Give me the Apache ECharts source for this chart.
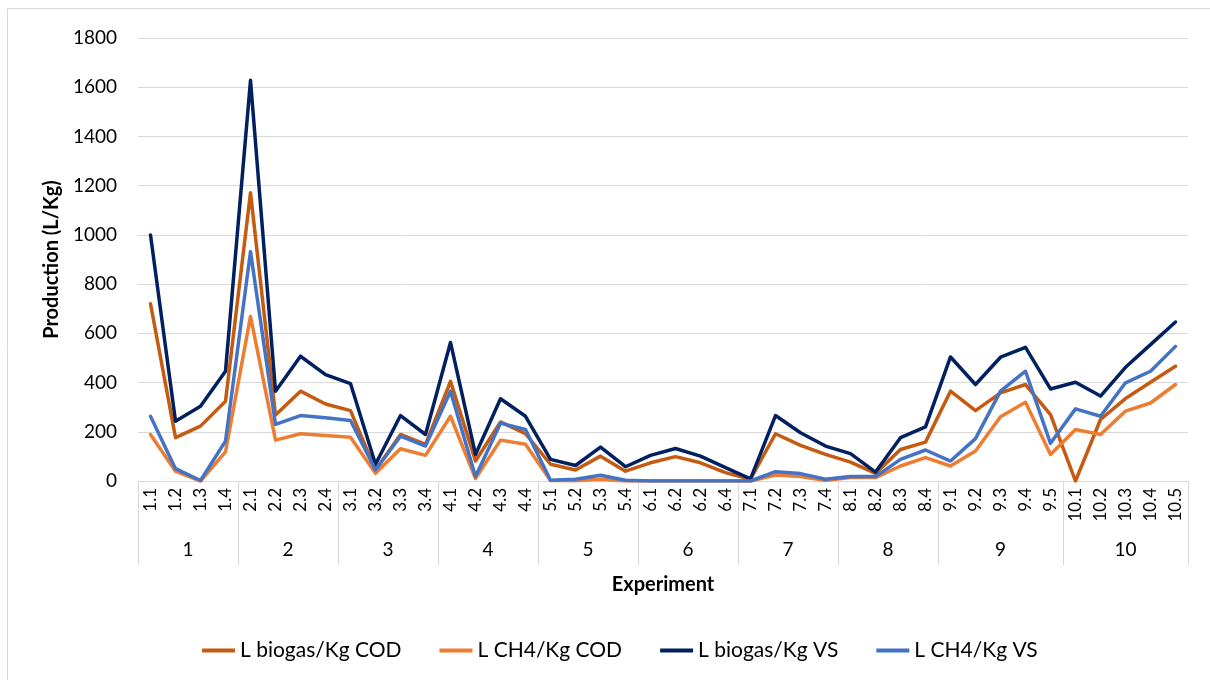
<!DOCTYPE html>
<html>
<head>
<meta charset="utf-8">
<script src="https://cdn.jsdelivr.net/npm/echarts@6/dist/echarts.min.js"></script>
<style>
  html, body { margin: 0; padding: 0; background: #fff; }
  #chart { width: 1210px; height: 680px; }
</style>
</head>
<body>
<div id="chart"></div>
<script>
// sub-experiment labels (the reference repeats "6.2")
const categories = [
  '1.1', '1.2', '1.3', '1.4', '2.1', '2.2', '2.3', '2.4',
  '3.1', '3.2', '3.3', '3.4', '4.1', '4.2', '4.3', '4.4',
  '5.1', '5.2', '5.3', '5.4', '6.1', '6.2', '6.2', '6.4',
  '7.1', '7.2', '7.3', '7.4', '8.1', '8.2', '8.3', '8.4',
  '9.1', '9.2', '9.3', '9.4', '9.5', '10.1', '10.2', '10.3', '10.4', '10.5'
];
const groupNames = ['1', '2', '3', '4', '5', '6', '7', '8', '9', '10'];
const groupSizes = [4, 4, 4, 4, 4, 4, 4, 4, 5, 5];

const biogasCOD = [
  720, 176, 223, 324, 1171, 268, 365, 313,
  286, 45, 189, 149, 405, 81, 240, 192,
  68, 45, 101, 40, 74, 99, 74, 34,
  7, 192, 145, 108, 77, 31, 128, 158,
  365, 286, 358, 392, 270, 0, 250, 335, 401, 466
];
const ch4COD = [
  189, 40, 0, 118, 669, 166, 192, 185,
  178, 31, 131, 104, 263, 10, 166, 149,
  2, 1, 7, 0, 0, 0, 0, 0,
  0, 24, 18, 2, 14, 14, 61, 95,
  61, 122, 261, 320, 108, 209, 189, 284, 317, 392
];
const biogasVS = [
  1000, 243, 304, 446, 1628, 365, 507, 432,
  396, 68, 266, 189, 563, 108, 334, 263,
  88, 63, 138, 58, 104, 132, 101, 54,
  9, 266, 196, 142, 111, 36, 176, 220,
  504, 392, 503, 543, 374, 401, 345, 462, 554, 646
];
const ch4VS = [
  263, 50, 2, 162, 932, 230, 266, 257,
  246, 45, 182, 142, 365, 18, 235, 209,
  3, 7, 23, 3, 0, 0, 0, 0,
  0, 38, 30, 7, 18, 18, 88, 126,
  81, 172, 365, 446, 153, 293, 263, 399, 446, 547
];

const FONT = 'Lato';
const GRID_COLOR = '#d9d9d9';

// half-step axis for the group row: 2 points per category, so group
// boundaries and group centres both fall on points
const groupAxis = new Array(categories.length * 2 + 1).fill('');
const boundaries = new Set([0]);
const centers = new Set();
let pos = 0;
groupNames.forEach((g, i) => {
  const mid = pos * 2 + groupSizes[i];
  groupAxis[mid] = g;
  centers.add(mid);
  pos += groupSizes[i];
  boundaries.add(pos * 2);
});

const chart = echarts.init(document.getElementById('chart'), null, { renderer: 'canvas' });

function line(name, data, color) {
  return {
    name: name,
    type: 'line',
    data: data,
    symbol: 'none',
    smooth: false,
    xAxisIndex: 0,
    lineStyle: { color: color, width: 3.5, join: 'round', cap: 'round' },
    itemStyle: { color: color },
  };
}

chart.setOption({
  backgroundColor: '#fff',
  animation: false,
  textStyle: { fontFamily: FONT },
  graphic: [{
    type: 'rect',
    shape: { x: 7.5, y: 8.5, width: 1220, height: 700 },
    style: { fill: null, stroke: GRID_COLOR, lineWidth: 1 },
    silent: true,
  }],
  grid: { left: 138, right: 22, top: 38, bottom: 199 },
  legend: {
    bottom: 14,
    left: 197,
    icon: 'rect',
    itemWidth: 33,
    itemHeight: 4,
    itemGap: 38,
    textStyle: { fontFamily: FONT, fontSize: 21, color: '#000' },
    data: ['L biogas/Kg COD', 'L CH4/Kg COD', 'L biogas/Kg VS', 'L CH4/Kg VS'],
  },
  xAxis: [
    {
      type: 'category',
      data: categories,
      boundaryGap: true,
      axisLine: { show: true, lineStyle: { color: GRID_COLOR, width: 1 } },
      axisTick: { show: false },
      axisLabel: { rotate: 90, interval: 0, margin: 7, fontSize: 17, color: '#000', fontFamily: FONT },
      splitLine: { show: false },
    },
    {
      type: 'category',
      data: groupAxis,
      boundaryGap: false,
      position: 'bottom',
      axisLine: { show: false },
      axisTick: {
        show: true,
        length: 84,
        interval: (idx) => boundaries.has(idx),
        lineStyle: { color: GRID_COLOR, width: 1 },
      },
      axisLabel: {
        interval: (idx) => centers.has(idx),
        margin: 59,
        fontSize: 19,
        color: '#000',
        fontFamily: FONT,
      },
      name: 'Experiment',
      nameLocation: 'middle',
      nameGap: 94,
      nameTextStyle: { fontWeight: 'bold', fontSize: 20, color: '#000', fontFamily: FONT },
      splitLine: { show: false },
    },
  ],
  yAxis: {
    type: 'value',
    min: 0,
    max: 1800,
    interval: 200,
    axisLine: { show: false },
    axisTick: { show: false },
    axisLabel: { margin: 21, fontSize: 19, color: '#000', fontFamily: FONT, formatter: (v) => String(v) },
    splitLine: { lineStyle: { color: GRID_COLOR, width: 1 } },
    name: 'Production (L/Kg)',
    nameLocation: 'middle',
    nameGap: 67,
    nameTextStyle: { fontWeight: 'bold', fontSize: 20, color: '#000', fontFamily: FONT },
  },
  series: [
    line('L biogas/Kg COD', biogasCOD, '#c55a11'),
    line('L CH4/Kg COD', ch4COD, '#ed7d31'),
    line('L biogas/Kg VS', biogasVS, '#002060'),
    line('L CH4/Kg VS', ch4VS, '#4472c4'),
  ],
});
</script>
</body>
</html>
